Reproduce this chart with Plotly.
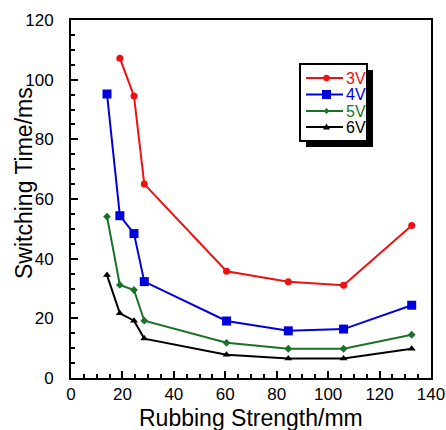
import plotly.graph_objects as go

rubbing = [14, 19, 24.5, 28.5, 60.5, 84.5, 106, 132.5]
t_3v = [None, 107.2, 94.5, 65.0, 35.8, 32.3, 31.1, 51.1]
t_4v = [95.2, 54.4, 48.4, 32.3, 19.1, 15.8, 16.4, 24.4]
t_5v = [54.1, 31.2, 29.5, 19.2, 11.8, 9.8, 9.8, 14.5]
t_6v = [34.5, 21.7, 19.2, 13.2, 7.8, 6.5, 6.5, 9.8]
series_names = ["3V", "4V", "5V", "6V"]

FONT = "Liberation Sans, Arial"
colors = ["#ee1111", "#0000dd", "#1a7228", "#000000"]
symbols = ["circle", "square", "diamond", "triangle-up"]
sizes = [7, 9, 6, 7]

# plot area in pixels
L, R, T, B = 71, 431, 20, 378
W, H = 446, 430


def px(X):
    return (X - L) / (R - L)


def py(Y):
    return (B - Y) / (B - T)


fig = go.Figure()
for name, ys, c, s, sz in zip(series_names, [t_3v, t_4v, t_5v, t_6v], colors, symbols, sizes):
    xs = [x for x, y in zip(rubbing, ys) if y is not None]
    yv = [y for y in ys if y is not None]
    fig.add_trace(go.Scatter(
        x=xs, y=yv, mode="lines+markers", name=name, showlegend=False,
        line=dict(color=c, width=2),
        marker=dict(symbol=s, size=sz, color=c),
    ))

axis_common = dict(
    showline=True, linecolor="black", linewidth=2, mirror=True,
    ticks="inside", ticklen=7, tickwidth=2, tickcolor="black",
    showgrid=False, zeroline=False, automargin=False,
    tickfont=dict(family=FONT, size=17, color="black"),
)
fig.update_xaxes(range=[0, 140], dtick=20, tick0=0,
                 minor=dict(dtick=5, ticks="inside", ticklen=4, tickwidth=1.5, tickcolor="black"),
                 **axis_common)
fig.update_yaxes(range=[0, 120], dtick=20, tick0=0,
                 minor=dict(dtick=5, ticks="inside", ticklen=4, tickwidth=1.5, tickcolor="black"),
                 ticklabelstandoff=12,
                 **axis_common)

annotations = [
    dict(text="Rubbing Strength/mm", xref="paper", yref="paper", x=px(251), y=py(418),
         xanchor="center", yanchor="middle", showarrow=False,
         font=dict(family=FONT, size=23, color="black")),
    dict(text="Switching Time/ms", xref="paper", yref="paper", x=px(24), y=py(183),
         xanchor="center", yanchor="middle", textangle=-90, showarrow=False,
         font=dict(family=FONT, size=23, color="black")),
]

shapes = []
# legend shadow and box
shapes.append(dict(type="rect", xref="paper", yref="paper",
                   x0=px(306), x1=px(373), y0=py(147), y1=py(70),
                   fillcolor="black", line=dict(width=0), layer="above"))
shapes.append(dict(type="rect", xref="paper", yref="paper",
                   x0=px(300), x1=px(367), y0=py(141), y1=py(64),
                   fillcolor="white", line=dict(color="black", width=2), layer="above"))

row_y = [78, 94.5, 111, 127]
mk = 3.2
for name, c, s, yy in zip(series_names, colors, symbols, row_y):
    shapes.append(dict(type="line", xref="paper", yref="paper",
                       x0=px(306), x1=px(343), y0=py(yy), y1=py(yy),
                       line=dict(color=c, width=2), layer="above"))
    cx = 326.5
    if s == "circle":
        shapes.append(dict(type="circle", xref="paper", yref="paper",
                           x0=px(cx - mk), x1=px(cx + mk), y0=py(yy + mk), y1=py(yy - mk),
                           fillcolor=c, line=dict(width=0), layer="above"))
    elif s == "square":
        shapes.append(dict(type="rect", xref="paper", yref="paper",
                           x0=px(cx - 4.5), x1=px(cx + 4.5), y0=py(yy + 4.5), y1=py(yy - 4.5),
                           fillcolor=c, line=dict(width=0), layer="above"))
    elif s == "diamond":
        d = 3
        path = (f"M {px(cx - d)} {py(yy)} L {px(cx)} {py(yy - d)} "
                f"L {px(cx + d)} {py(yy)} L {px(cx)} {py(yy + d)} Z")
        shapes.append(dict(type="path", xref="paper", yref="paper", path=path,
                           fillcolor=c, line=dict(width=0), layer="above"))
    else:
        d = 3.5
        path = (f"M {px(cx - d)} {py(yy + 2.5)} L {px(cx)} {py(yy - 3.5)} "
                f"L {px(cx + d)} {py(yy + 2.5)} Z")
        shapes.append(dict(type="path", xref="paper", yref="paper", path=path,
                           fillcolor=c, line=dict(width=0), layer="above"))
    annotations.append(dict(text=name, xref="paper", yref="paper", x=px(344.5), y=py(yy),
                            xanchor="left", yanchor="middle", showarrow=False,
                            borderpad=0,
                            font=dict(family=FONT, size=16, color=c)))

fig.update_layout(
    width=W, height=H,
    margin=dict(l=L, r=W - R, t=T, b=H - B, autoexpand=False),
    paper_bgcolor="white", plot_bgcolor="white",
    showlegend=False,
    shapes=shapes, annotations=annotations,
)

fig.write_html("out.html", config={"displayModeBar": False},
               post_script="document.body.style.margin='0';document.body.style.overflow='hidden';")
